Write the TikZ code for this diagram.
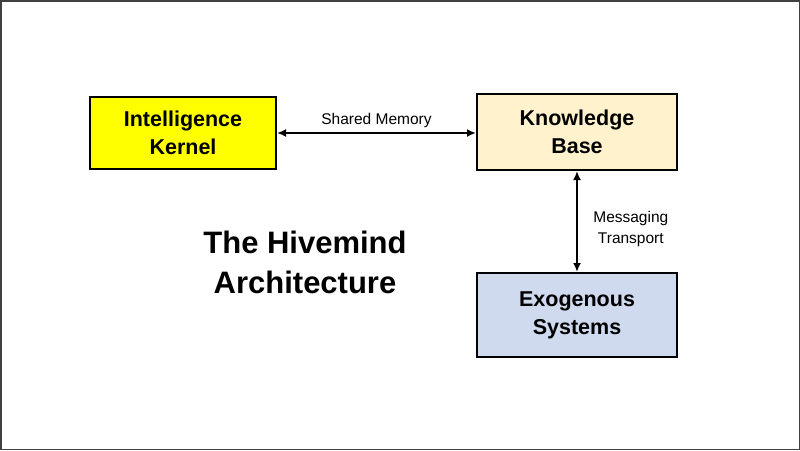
\documentclass[tikz,border=0pt]{standalone}
\usepackage{fontspec}
\setmainfont{Liberation Sans}
\usetikzlibrary{arrows.meta}
\definecolor{kyellow}{HTML}{FFFF00}
\definecolor{kbeige}{HTML}{FFF2CC}
\definecolor{kblue}{HTML}{CFDAEF}
\definecolor{frame}{HTML}{404040}
\begin{document}
\begin{tikzpicture}[x=1pt,y=-1pt,
  box/.style={draw=black,line width=2pt,inner sep=0pt,align=center,font=\fontsize{21.5}{28}\selectfont\bfseries},
  conn/.style={line width=2pt,{Latex[length=9pt,width=8pt]}-{Latex[length=9pt,width=8pt]}},
  lbl/.style={font=\fontsize{15.5}{21}\selectfont,align=center}]
\path[use as bounding box] (0,0) rectangle (800,450);
\draw[frame,line width=1.5pt] (0.75,0.75) rectangle (799.25,449.25);
\node[box,fill=kyellow,minimum width=186pt,minimum height=72pt] (ik) at (183,133) {Intelligence\\Kernel};
\node[box,fill=kbeige,minimum width=200pt,minimum height=76pt] (kb) at (577,132) {Knowledge\\Base};
\node[box,fill=kblue,minimum width=200pt,minimum height=84pt] (es) at (577,315) {Exogenous\\Systems};
\node[font=\fontsize{31}{40}\selectfont\bfseries,align=center] (title) at (305,262) {The Hivemind\\Architecture};
\draw[conn] (ik.east |- 0,133) -- (kb.west |- 0,133) node[lbl,midway,above=1pt] (sm) {Shared Memory};
\draw[conn] (kb.south) -- (es.north) node[lbl,midway,right=12pt,yshift=-7pt] (mt) {Messaging\\Transport};
\end{tikzpicture}
\end{document}
